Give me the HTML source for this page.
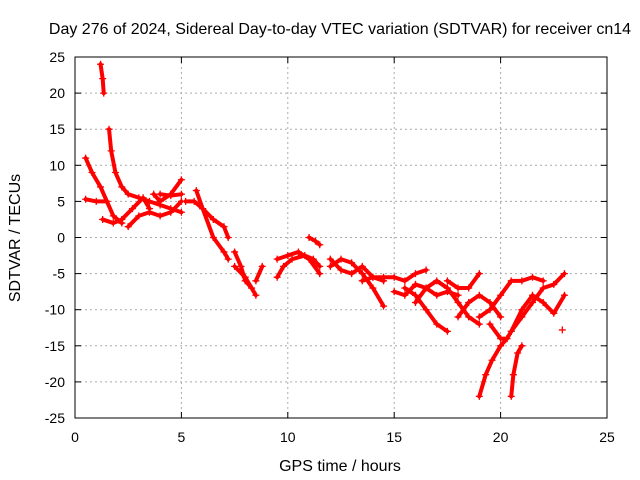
<!DOCTYPE html>
<html><head><meta charset="utf-8"><style>
body{margin:0;background:#fff}
svg{display:block;font-family:"Liberation Sans",sans-serif;font-size:14px}
.ttl{font-size:16px}
</style></head><body>
<svg id="chart" width="640" height="480">
<rect width="640" height="480" fill="#fff"/>
<text class="ttl" x="340" y="34" text-anchor="middle">Day 276 of 2024, Sidereal Day-to-day VTEC variation (SDTVAR) for receiver cn14</text>
<g id="grid"></g><g id="marks"></g><g id="axes"></g>
<text class="ttl" x="340" y="471" text-anchor="middle">GPS time / hours</text>
<text class="ttl" transform="translate(20,238) rotate(-90)" text-anchor="middle">SDTVAR / TECUs</text>
</svg>
<script>
const xTicks=[0,5,10,15,20,25];
const yTicks=[25,20,15,10,5,0,-5,-10,-15,-20,-25];
const tracks=[
[[0.5,11],[0.8,9],[1.2,7],[1.5,5],[1.8,3],[2.2,2]],
[[0.5,5.3],[1,5],[1.5,5]],
[[1.2,24],[1.3,22],[1.35,20]],
[[1.6,15],[1.7,12],[1.9,9],[2.2,7],[2.5,6],[3,5.5],[3.5,5],[4,4.5],[4.5,4],[5,3.5]],
[[1.3,2.5],[1.8,2],[2.2,2.5],[2.7,4],[3.2,5.5],[3.5,4]],
[[2.5,1.5],[3,3],[3.5,3.5],[4,3],[4.5,3.5],[5,5]],
[[3.7,6],[4,5],[4.5,6],[5,8]],
[[4,6],[4.5,5.8],[5,6]],
[[5.2,5],[5.6,5],[6,4],[6.5,2.5],[7,1.5],[7.2,0]],
[[5.7,6.5],[6,4],[6.5,0],[7,-2],[7.2,-3]],
[[7.5,-2],[7.8,-4],[8,-6],[8.3,-7]],
[[7.5,-4],[8,-5.5],[8.5,-8]],
[[8.8,-4],[8.5,-6]],
[[9.5,-5.5],[9.8,-4],[10.2,-3],[10.8,-2.5],[11.2,-3],[11.5,-4]],
[[9.5,-3],[10,-2.5],[10.5,-2],[11,-3],[11.5,-5]],
[[11,0],[11.3,-0.5],[11.5,-1]],
[[12,-4],[12.5,-3],[13,-3.5],[13.5,-5],[14,-7],[14.5,-9.5]],
[[12,-3],[12.5,-4.5],[13,-5],[13.5,-4],[14,-5.5],[14.5,-6]],
[[13.5,-6],[14,-5.5],[14.5,-5.5],[15,-5.5],[15.5,-6],[16,-5],[16.5,-4.5]],
[[15,-7.5],[15.5,-8],[16,-6.5],[16.5,-7],[17,-8],[17.5,-7.5],[18,-8]],
[[15.5,-7],[16,-8],[16.5,-10],[17,-12],[17.5,-13]],
[[16,-9],[16.5,-7],[17,-6],[17.5,-7],[18,-9],[18.5,-11],[19,-12]],
[[17.5,-6],[18,-7],[18.5,-7],[19,-5]],
[[18,-11],[18.5,-9],[19,-8],[19.5,-9],[20,-11]],
[[19,-11],[19.5,-10],[20,-8],[20.5,-6],[21,-6],[21.5,-5.5],[22,-6]],
[[19,-22],[19.3,-19],[19.6,-17],[20,-15],[20.3,-14]],
[[20.5,-22],[20.6,-19],[20.8,-16],[21,-15]],
[[19.5,-12],[20,-14],[20.3,-14],[20.5,-13],[21,-11],[21.5,-9],[22,-7],[22.5,-6.5],[23,-5]],
[[20.5,-13],[21,-10],[21.5,-8],[22,-9],[22.5,-10.5],[23,-8]],
[[22.9,-12.8]]
];
const X0=75,X1=607,Y0=418,Y1=57;
const sx=v=>X0+(v-0)/(25-0)*(X1-X0);
const sy=v=>Y0-(v+25)/50*(Y0-Y1);
const NS="http://www.w3.org/2000/svg";
const grid=document.getElementById('grid'),axes=document.getElementById('axes'),marks=document.getElementById('marks');
function mk(tag,at,parent){const e=document.createElementNS(NS,tag);for(const k in at)e.setAttribute(k,at[k]);parent.appendChild(e);return e;}
xTicks.forEach(t=>{
 const x=sx(t);
 if(t>0&&t<25){const g=mk('line',{x1:x,x2:x,y1:Y1,y2:Y0,stroke:'#aaa','stroke-dasharray':'2,3','stroke-width':1},grid);
 
 }
 mk('line',{x1:x,x2:x,y1:Y0,y2:Y0-6,stroke:'#000'},axes);
 mk('line',{x1:x,x2:x,y1:Y1,y2:Y1+6,stroke:'#000'},axes);
 const l=mk('text',{x:x,y:Y0+24,'text-anchor':'middle'},axes);l.textContent=t;
 
 
});
yTicks.forEach(t=>{
 const y=sy(t);
 if(t>-25&&t<25){const g=mk('line',{x1:X0,x2:X1,y1:y,y2:y,stroke:'#aaa','stroke-dasharray':'2,3','stroke-width':1},grid);
 
 }
 mk('line',{x1:X0,x2:X0+6,y1:y,y2:y,stroke:'#000'},axes);
 mk('line',{x1:X1,x2:X1-6,y1:y,y2:y,stroke:'#000'},axes);
 const l=mk('text',{x:X0-10,y:y+5,'text-anchor':'end'},axes);l.textContent=t;
 
 
});
const frame=mk('rect',{x:X0,y:Y1,width:X1-X0,height:Y0-Y1,fill:'none',stroke:'#000'},axes);


tracks.forEach(tr=>{
 const pl=mk('polyline',{points:tr.map(p=>sx(p[0])+','+sy(p[1])).join(' '),fill:'none',stroke:'#f00','stroke-width':4,'stroke-linejoin':'round','stroke-linecap':'round'},marks);
 
 
 tr.forEach(p=>{
  const x=sx(p[0]),y=sy(p[1]);
  const m=mk('path',{d:`M${x-3.5},${y}H${x+3.5}M${x},${y-3.5}V${y+3.5}`,stroke:'#f00','stroke-width':1.3},marks);
  
  
 });
});
</script>
</body></html>
